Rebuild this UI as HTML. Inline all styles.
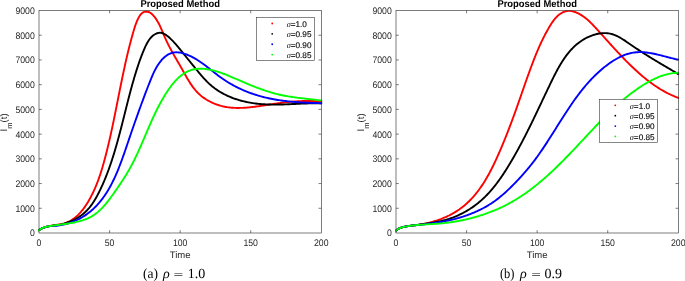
<!DOCTYPE html>
<html><head><meta charset="utf-8"><title>Proposed Method</title>
<style>html,body{margin:0;padding:0;background:#fff;overflow:hidden}svg{display:block;text-rendering:geometricPrecision}</style>
</head><body>
<svg width="685" height="281" viewBox="0 0 685 281">
<rect width="685" height="281" fill="#fff"/>
<clipPath id="clipL"><rect x="38.0" y="10.2" width="284.30" height="223.80"/></clipPath>
<g clip-path="url(#clipL)" fill="none" stroke-width="1.9" stroke-linejoin="round" stroke-linecap="round">
<path d="M38.96,230.18L40.08,229.41L41.21,228.75L42.50,228.13L43.92,227.57L45.41,227.09L46.57,226.78L47.76,226.49L48.96,226.22L50.19,225.96L51.43,225.73L52.69,225.51L53.95,225.30L55.21,225.10L56.48,224.90L57.75,224.71L59.00,224.51L60.25,224.29L61.49,224.04L62.71,223.76L63.91,223.44L65.08,223.08L66.23,222.68L67.35,222.23L68.45,221.74L69.88,221.03L71.26,220.25L72.60,219.40L73.90,218.49L75.16,217.52L76.38,216.49L77.57,215.42L78.43,214.58L79.27,213.71L80.10,212.82L80.91,211.91L81.69,210.98L82.46,210.03L83.22,209.06L83.95,208.07L84.67,207.07L85.37,206.06L86.06,205.03L86.73,203.99L87.39,202.94L88.03,201.89L88.66,200.82L89.28,199.75L89.88,198.68L90.47,197.60L91.04,196.52L91.61,195.43L92.16,194.34L92.70,193.24L93.23,192.14L93.75,191.03L94.26,189.92L94.76,188.80L95.24,187.68L95.72,186.56L96.18,185.43L96.64,184.30L97.09,183.17L97.53,182.03L97.96,180.89L98.38,179.74L98.79,178.59L99.20,177.44L99.60,176.29L99.99,175.13L100.37,173.97L100.75,172.81L101.12,171.65L101.48,170.48L101.84,169.32L102.19,168.15L102.54,166.97L102.88,165.80L103.22,164.62L103.55,163.45L103.88,162.27L104.20,161.09L104.52,159.91L104.84,158.73L105.15,157.55L105.47,156.36L105.77,155.18L106.08,153.99L106.38,152.81L106.68,151.62L106.97,150.44L107.27,149.25L107.56,148.06L107.85,146.87L108.13,145.68L108.42,144.49L108.70,143.30L108.98,142.11L109.25,140.92L109.53,139.72L109.80,138.53L110.07,137.34L110.34,136.14L110.61,134.95L110.87,133.75L111.13,132.56L111.39,131.36L111.65,130.16L111.91,128.97L112.17,127.77L112.42,126.57L112.68,125.38L112.93,124.18L113.18,122.98L113.43,121.78L113.68,120.58L113.92,119.38L114.17,118.18L114.41,116.98L114.66,115.78L114.90,114.58L115.14,113.38L115.39,112.18L115.63,110.98L115.87,109.78L116.11,108.58L116.35,107.38L116.59,106.18L116.83,104.98L117.06,103.78L117.30,102.58L117.54,101.38L117.78,100.18L118.02,98.98L118.25,97.78L118.49,96.58L118.73,95.38L118.97,94.18L119.21,92.98L119.45,91.78L119.68,90.58L119.92,89.38L120.16,88.18L120.41,86.98L120.65,85.78L120.89,84.58L121.13,83.39L121.38,82.19L121.62,80.99L121.87,79.79L122.11,78.60L122.36,77.40L122.61,76.21L122.86,75.01L123.11,73.81L123.36,72.62L123.62,71.43L123.87,70.23L124.13,69.04L124.39,67.85L124.65,66.66L124.91,65.47L125.17,64.27L125.44,63.08L125.70,61.90L125.97,60.71L126.24,59.52L126.52,58.33L126.79,57.15L127.07,55.96L127.35,54.77L127.63,53.59L127.92,52.41L128.20,51.22L128.49,50.04L128.79,48.86L129.08,47.68L129.38,46.50L129.68,45.32L129.98,44.14L130.29,42.97L130.60,41.79L130.91,40.62L131.22,39.44L131.54,38.27L131.86,37.10L132.19,35.93L132.51,34.76L132.84,33.59L133.18,32.42L133.52,31.26L133.86,30.09L134.21,28.93L134.57,27.76L134.94,26.59L135.33,25.42L135.75,24.25L136.19,23.07L136.66,21.89L137.16,20.70L137.70,19.51L138.28,18.31L138.91,17.14L139.59,16.01L140.32,14.96L141.11,14.01L142.26,12.95L143.53,12.16L144.92,11.70L146.38,11.57L147.85,11.75L149.28,12.24L150.62,13.03L151.86,14.04L152.72,14.89L153.55,15.77L154.33,16.69L155.08,17.63L155.79,18.60L156.47,19.60L157.11,20.63L157.73,21.67L158.33,22.73L158.90,23.81L159.45,24.91L159.99,26.02L160.50,27.14L161.01,28.28L161.51,29.42L161.99,30.56L162.48,31.71L162.96,32.86L163.44,34.01L163.92,35.16L164.41,36.31L164.90,37.45L165.40,38.58L165.92,39.70L166.44,40.82L166.97,41.93L167.50,43.03L168.05,44.13L168.60,45.22L169.16,46.31L169.72,47.39L170.29,48.47L170.87,49.54L171.45,50.61L172.04,51.68L172.63,52.74L173.22,53.80L173.82,54.86L174.42,55.91L175.02,56.97L175.63,58.02L176.24,59.07L176.85,60.12L177.46,61.18L178.07,62.23L178.68,63.28L179.29,64.33L179.90,65.39L180.51,66.44L181.12,67.50L181.73,68.56L182.33,69.62L182.94,70.69L183.54,71.76L184.14,72.83L184.74,73.90L185.34,74.97L185.94,76.04L186.55,77.10L187.17,78.17L187.79,79.22L188.42,80.27L189.06,81.32L189.70,82.35L190.36,83.38L191.04,84.40L191.73,85.40L192.43,86.39L193.15,87.37L193.89,88.33L194.65,89.28L195.42,90.21L196.22,91.12L197.05,92.01L197.89,92.88L198.77,93.73L199.67,94.56L200.59,95.37L201.54,96.15L202.51,96.91L203.51,97.64L204.52,98.35L205.55,99.04L206.60,99.70L207.67,100.34L208.75,100.95L209.85,101.53L210.96,102.09L212.08,102.63L213.22,103.14L214.36,103.62L215.51,104.07L216.66,104.50L217.83,104.90L218.99,105.27L220.16,105.62L221.33,105.94L222.51,106.23L223.69,106.49L224.87,106.74L226.06,106.95L227.24,107.15L228.43,107.32L229.63,107.46L230.82,107.59L232.02,107.70L233.22,107.78L234.42,107.85L235.63,107.90L236.83,107.93L238.04,107.94L239.25,107.94L240.46,107.92L241.67,107.88L242.88,107.83L244.10,107.77L245.32,107.69L246.53,107.61L247.75,107.51L248.97,107.39L250.19,107.27L251.41,107.14L252.63,107.00L253.85,106.86L255.07,106.70L256.30,106.54L257.52,106.37L258.74,106.20L259.96,106.02L261.18,105.84L262.40,105.66L263.63,105.47L264.85,105.28L266.07,105.09L267.29,104.90L268.51,104.71L269.72,104.53L270.94,104.34L272.16,104.16L273.37,103.97L274.58,103.80L275.80,103.62L277.01,103.45L278.22,103.28L279.43,103.12L280.64,102.96L281.85,102.81L283.06,102.66L284.27,102.51L285.47,102.37L286.68,102.24L287.89,102.11L289.10,101.99L290.31,101.87L291.51,101.76L292.72,101.65L293.93,101.55L295.14,101.46L296.35,101.38L297.56,101.30L298.78,101.23L299.99,101.16L301.20,101.11L302.42,101.06L303.63,101.02L304.85,100.99L306.07,100.97L307.29,100.95L308.51,100.95L309.73,100.95L310.96,100.96L312.18,100.99L313.41,101.02L314.64,101.06L315.87,101.11L317.11,101.18L318.35,101.25L319.59,101.33L320.83,101.43L321.66,101.50" stroke="#ff0000"/>
<path d="M39.04,230.12L40.09,229.40L41.39,228.66L42.64,228.07L44.00,227.54L45.42,227.09L46.85,226.71L48.29,226.37L49.74,226.07L51.19,225.82L52.65,225.62L54.11,225.44L55.57,225.27L57.02,225.09L58.48,224.87L59.93,224.61L61.37,224.31L62.80,223.97L64.23,223.59L65.64,223.18L67.05,222.73L68.44,222.24L69.81,221.71L71.17,221.14L72.52,220.54L73.84,219.90L75.15,219.22L76.43,218.51L77.69,217.76L78.93,216.98L80.14,216.16L81.33,215.31L82.49,214.42L83.62,213.49L84.72,212.53L85.78,211.54L86.82,210.51L87.82,209.45L88.79,208.36L89.72,207.24L90.62,206.09L91.50,204.92L92.35,203.72L93.17,202.50L93.97,201.26L94.74,200.01L95.50,198.74L96.23,197.46L96.95,196.16L97.65,194.86L98.33,193.56L99.00,192.25L99.66,190.93L100.30,189.61L100.93,188.28L101.55,186.96L102.16,185.62L102.76,184.29L103.34,182.95L103.92,181.60L104.49,180.25L105.04,178.90L105.59,177.55L106.13,176.19L106.67,174.83L107.19,173.47L107.71,172.10L108.22,170.73L108.72,169.36L109.22,167.99L109.70,166.61L110.19,165.23L110.66,163.85L111.13,162.46L111.59,161.08L112.05,159.69L112.50,158.29L112.94,156.90L113.38,155.50L113.82,154.11L114.25,152.71L114.67,151.31L115.09,149.90L115.50,148.50L115.91,147.09L116.32,145.68L116.72,144.27L117.12,142.86L117.51,141.45L117.90,140.03L118.29,138.62L118.68,137.20L119.06,135.78L119.44,134.37L119.81,132.95L120.18,131.53L120.55,130.10L120.92,128.68L121.29,127.26L121.66,125.84L122.02,124.41L122.38,122.99L122.74,121.56L123.10,120.14L123.46,118.71L123.82,117.29L124.18,115.86L124.53,114.44L124.89,113.01L125.25,111.59L125.60,110.16L125.96,108.74L126.32,107.31L126.68,105.89L127.04,104.46L127.40,103.04L127.76,101.62L128.13,100.20L128.49,98.78L128.86,97.36L129.23,95.94L129.60,94.52L129.97,93.10L130.35,91.68L130.73,90.27L131.11,88.85L131.49,87.44L131.88,86.03L132.27,84.62L132.67,83.21L133.07,81.80L133.47,80.40L133.88,79.00L134.29,77.59L134.70,76.19L135.12,74.80L135.55,73.40L135.98,72.01L136.41,70.62L136.85,69.23L137.30,67.84L137.75,66.45L138.21,65.07L138.68,63.69L139.15,62.31L139.64,60.93L140.13,59.56L140.63,58.18L141.15,56.81L141.67,55.44L142.21,54.07L142.75,52.70L143.32,51.34L143.89,49.97L144.48,48.60L145.08,47.24L145.70,45.88L146.35,44.54L147.03,43.22L147.75,41.93L148.52,40.68L149.35,39.47L150.24,38.33L151.20,37.25L152.24,36.25L153.36,35.33L154.58,34.50L155.87,33.79L157.23,33.24L158.61,32.88L160.00,32.73L161.38,32.85L162.73,33.22L164.04,33.79L165.32,34.53L166.57,35.40L167.77,36.34L168.94,37.32L170.07,38.33L171.15,39.35L172.21,40.40L173.24,41.46L174.24,42.54L175.22,43.63L176.18,44.73L177.12,45.84L178.06,46.96L178.98,48.09L179.90,49.21L180.82,50.34L181.73,51.47L182.65,52.60L183.57,53.73L184.48,54.86L185.40,55.99L186.31,57.12L187.23,58.25L188.15,59.39L189.06,60.52L189.98,61.66L190.90,62.79L191.83,63.93L192.75,65.07L193.68,66.20L194.60,67.34L195.54,68.48L196.47,69.62L197.41,70.77L198.35,71.91L199.29,73.04L200.25,74.18L201.21,75.30L202.18,76.42L203.16,77.52L204.15,78.62L205.15,79.70L206.17,80.76L207.20,81.81L208.25,82.83L209.31,83.84L210.39,84.81L211.50,85.77L212.62,86.69L213.76,87.59L214.92,88.47L216.10,89.31L217.30,90.13L218.52,90.93L219.75,91.69L221.00,92.44L222.27,93.15L223.54,93.85L224.84,94.52L226.15,95.16L227.47,95.78L228.80,96.37L230.15,96.95L231.50,97.50L232.87,98.02L234.25,98.52L235.64,99.01L237.03,99.46L238.44,99.90L239.85,100.32L241.27,100.71L242.70,101.08L244.13,101.43L245.57,101.76L247.01,102.08L248.46,102.37L249.91,102.64L251.36,102.89L252.82,103.12L254.28,103.33L255.74,103.53L257.20,103.70L258.66,103.86L260.12,104.00L261.58,104.13L263.04,104.23L264.50,104.32L265.96,104.40L267.42,104.46L268.88,104.51L270.34,104.55L271.80,104.58L273.26,104.59L274.72,104.59L276.18,104.59L277.64,104.57L279.10,104.55L280.57,104.52L282.03,104.48L283.49,104.43L284.95,104.38L286.41,104.33L287.87,104.27L289.34,104.21L290.80,104.14L292.26,104.07L293.73,104.00L295.19,103.93L296.65,103.86L298.12,103.79L299.58,103.73L301.05,103.66L302.52,103.60L303.98,103.54L305.45,103.49L306.92,103.44L308.38,103.39L309.85,103.36L311.32,103.33L312.79,103.30L314.26,103.29L315.73,103.29L317.20,103.29L318.67,103.31L320.15,103.33L321.62,103.37" stroke="#000000"/>
<path d="M38.81,230.29L39.87,229.54L41.06,228.84L42.37,228.19L43.49,227.73L44.67,227.32L45.90,226.96L47.17,226.63L48.48,226.33L49.81,226.10L51.16,225.95L52.51,225.86L53.87,225.82L55.23,225.78L56.59,225.71L57.94,225.58L59.29,225.40L60.64,225.18L61.98,224.94L63.31,224.66L64.64,224.35L65.96,224.02L67.27,223.65L68.58,223.26L69.87,222.84L71.16,222.39L72.43,221.92L73.69,221.42L74.94,220.89L76.18,220.34L77.40,219.77L78.61,219.17L79.80,218.55L80.97,217.90L82.13,217.24L83.28,216.55L84.40,215.84L85.50,215.11L86.59,214.36L87.65,213.59L88.70,212.80L89.73,211.99L90.74,211.16L91.73,210.32L92.70,209.46L93.65,208.58L94.59,207.68L95.51,206.77L96.41,205.84L97.30,204.89L98.17,203.93L99.02,202.95L99.86,201.96L100.68,200.95L101.49,199.93L102.28,198.89L103.06,197.84L103.82,196.78L104.57,195.71L105.31,194.62L106.03,193.52L106.74,192.41L107.44,191.29L108.12,190.15L108.79,189.01L109.45,187.85L110.10,186.69L110.74,185.51L111.37,184.33L111.99,183.14L112.59,181.94L113.19,180.73L113.78,179.51L114.35,178.29L114.92,177.06L115.48,175.82L116.03,174.58L116.57,173.33L117.11,172.07L117.64,170.81L118.15,169.54L118.67,168.27L119.17,167.00L119.67,165.72L120.17,164.44L120.66,163.15L121.14,161.87L121.61,160.58L122.09,159.28L122.55,157.99L123.02,156.70L123.48,155.40L123.93,154.10L124.39,152.81L124.83,151.51L125.28,150.21L125.72,148.92L126.17,147.63L126.61,146.33L127.04,145.04L127.48,143.76L127.92,142.47L128.35,141.19L128.79,139.91L129.22,138.63L129.66,137.36L130.09,136.09L130.52,134.82L130.96,133.56L131.39,132.30L131.83,131.04L132.26,129.78L132.69,128.53L133.13,127.28L133.56,126.03L134.00,124.78L134.43,123.53L134.87,122.29L135.30,121.05L135.74,119.81L136.18,118.57L136.62,117.33L137.06,116.09L137.50,114.86L137.94,113.62L138.38,112.39L138.82,111.16L139.27,109.92L139.71,108.69L140.16,107.46L140.61,106.23L141.05,105.00L141.51,103.77L141.96,102.54L142.41,101.31L142.87,100.08L143.33,98.85L143.79,97.62L144.25,96.39L144.71,95.16L145.17,93.93L145.64,92.69L146.11,91.46L146.58,90.23L147.06,88.99L147.53,87.75L148.01,86.52L148.49,85.28L148.98,84.03L149.46,82.79L149.95,81.55L150.44,80.30L150.94,79.06L151.45,77.81L151.97,76.57L152.50,75.33L153.05,74.09L153.62,72.86L154.21,71.63L154.82,70.41L155.46,69.19L156.12,67.99L156.82,66.79L157.55,65.61L158.31,64.43L159.11,63.28L159.95,62.14L160.82,61.04L161.72,59.97L162.66,58.94L163.63,57.97L164.63,57.05L165.66,56.19L166.72,55.40L167.82,54.69L168.94,54.06L170.09,53.53L171.27,53.09L172.48,52.75L173.71,52.51L174.96,52.37L176.23,52.32L177.52,52.36L178.81,52.48L180.12,52.67L181.42,52.92L182.73,53.24L184.03,53.61L185.33,54.03L186.62,54.50L187.89,55.00L189.14,55.54L190.37,56.10L191.59,56.69L192.78,57.30L193.96,57.94L195.13,58.60L196.28,59.28L197.41,59.98L198.53,60.69L199.64,61.43L200.74,62.18L201.83,62.94L202.91,63.71L203.99,64.50L205.05,65.30L206.11,66.10L207.16,66.92L208.22,67.74L209.26,68.56L210.31,69.39L211.35,70.22L212.40,71.05L213.44,71.87L214.49,72.70L215.54,73.52L216.59,74.34L217.65,75.16L218.71,75.96L219.79,76.76L220.86,77.54L221.95,78.32L223.05,79.08L224.16,79.83L225.27,80.56L226.40,81.29L227.53,82.00L228.68,82.69L229.83,83.38L230.99,84.05L232.16,84.70L233.33,85.35L234.52,85.98L235.71,86.60L236.91,87.21L238.11,87.80L239.32,88.38L240.54,88.95L241.77,89.51L243.00,90.05L244.23,90.58L245.47,91.09L246.72,91.60L247.97,92.09L249.23,92.57L250.49,93.03L251.76,93.49L253.03,93.93L254.30,94.35L255.58,94.77L256.86,95.17L258.14,95.56L259.43,95.94L260.72,96.30L262.01,96.66L263.30,97.00L264.60,97.32L265.89,97.64L267.19,97.94L268.49,98.23L269.80,98.51L271.10,98.77L272.41,99.03L273.71,99.28L275.02,99.51L276.33,99.73L277.65,99.95L278.96,100.15L280.27,100.35L281.59,100.53L282.91,100.71L284.23,100.88L285.55,101.04L286.87,101.19L288.19,101.33L289.52,101.47L290.84,101.60L292.17,101.72L293.50,101.84L294.83,101.95L296.16,102.05L297.49,102.15L298.82,102.24L300.16,102.33L301.49,102.41L302.83,102.49L304.17,102.56L305.50,102.63L306.84,102.69L308.18,102.75L309.52,102.81L310.87,102.87L312.21,102.92L313.55,102.97L314.90,103.02L316.24,103.06L317.59,103.11L318.94,103.15L320.29,103.19L321.63,103.24" stroke="#0000ff"/>
<path d="M38.55,230.50L39.72,229.64L40.95,228.90L42.23,228.25L43.55,227.71L44.92,227.24L46.32,226.84L47.76,226.51L49.23,226.21L50.42,226.01L51.62,225.82L52.83,225.64L54.06,225.47L55.29,225.30L56.52,225.13L57.77,224.97L59.01,224.80L60.27,224.64L61.52,224.47L62.78,224.31L64.04,224.13L65.30,223.96L66.56,223.77L67.82,223.58L69.08,223.38L70.33,223.17L71.58,222.95L72.83,222.72L74.07,222.47L75.30,222.22L76.53,221.94L77.75,221.65L78.96,221.34L80.16,221.02L81.36,220.67L82.54,220.30L83.70,219.91L84.86,219.50L86.00,219.06L87.12,218.60L88.24,218.11L89.33,217.59L90.41,217.05L91.46,216.47L92.50,215.87L93.52,215.23L94.52,214.56L95.50,213.86L96.46,213.13L97.41,212.37L98.34,211.58L99.25,210.77L100.14,209.94L101.02,209.08L101.89,208.21L102.74,207.31L103.58,206.39L104.41,205.46L105.22,204.51L106.03,203.55L106.82,202.58L107.61,201.59L108.39,200.59L109.16,199.59L109.92,198.57L110.68,197.55L111.43,196.53L112.17,195.50L112.91,194.47L113.65,193.43L114.38,192.40L115.11,191.37L115.84,190.34L116.56,189.30L117.28,188.27L117.99,187.24L118.70,186.20L119.41,185.16L120.11,184.12L120.80,183.09L121.49,182.04L122.18,181.00L122.86,179.96L123.53,178.91L124.20,177.86L124.86,176.81L125.51,175.76L126.16,174.70L126.80,173.64L127.44,172.58L128.07,171.52L128.69,170.45L129.30,169.38L129.90,168.30L130.50,167.23L131.09,166.15L131.67,165.06L132.24,163.97L132.81,162.88L133.37,161.79L133.93,160.69L134.47,159.59L135.02,158.49L135.55,157.38L136.08,156.27L136.61,155.16L137.13,154.05L137.65,152.93L138.16,151.82L138.67,150.70L139.17,149.58L139.68,148.45L140.17,147.33L140.67,146.20L141.16,145.07L141.65,143.94L142.14,142.81L142.63,141.68L143.12,140.55L143.60,139.42L144.09,138.28L144.57,137.15L145.05,136.01L145.53,134.88L146.02,133.74L146.50,132.60L146.99,131.47L147.47,130.33L147.96,129.19L148.45,128.06L148.94,126.92L149.43,125.78L149.93,124.65L150.42,123.52L150.92,122.38L151.43,121.25L151.94,120.12L152.45,118.99L152.96,117.86L153.48,116.73L154.01,115.60L154.54,114.48L155.07,113.35L155.62,112.23L156.16,111.11L156.71,109.99L157.27,108.88L157.84,107.76L158.41,106.65L158.99,105.54L159.58,104.44L160.17,103.33L160.78,102.23L161.39,101.13L162.01,100.04L162.64,98.94L163.28,97.86L163.92,96.77L164.58,95.69L165.25,94.61L165.92,93.53L166.61,92.46L167.31,91.40L168.02,90.34L168.74,89.29L169.48,88.24L170.22,87.21L170.98,86.20L171.75,85.19L172.53,84.20L173.33,83.23L174.14,82.28L174.97,81.35L175.81,80.44L176.66,79.55L177.53,78.68L178.41,77.85L179.31,77.03L180.23,76.25L181.40,75.32L182.59,74.43L183.81,73.60L185.06,72.82L186.34,72.10L187.64,71.45L188.97,70.85L190.34,70.33L191.73,69.87L193.16,69.49L194.61,69.19L195.80,69.00L197.01,68.86L198.23,68.76L199.47,68.71L200.72,68.71L201.98,68.74L203.25,68.81L204.52,68.92L205.80,69.06L207.09,69.24L208.37,69.44L209.65,69.67L210.92,69.93L212.19,70.22L213.45,70.52L214.70,70.85L215.94,71.19L217.17,71.55L218.38,71.93L219.58,72.32L220.77,72.72L221.95,73.13L223.12,73.56L224.28,74.00L225.43,74.45L226.58,74.90L227.72,75.37L228.86,75.84L229.99,76.31L231.12,76.80L232.25,77.28L233.38,77.77L234.51,78.26L235.63,78.75L236.76,79.24L237.89,79.73L239.02,80.22L240.16,80.71L241.29,81.20L242.42,81.69L243.56,82.18L244.70,82.66L245.84,83.14L246.98,83.62L248.12,84.10L249.27,84.58L250.41,85.05L251.56,85.51L252.71,85.98L253.86,86.43L255.02,86.89L256.17,87.34L257.33,87.78L258.49,88.22L259.65,88.65L260.82,89.07L261.99,89.49L263.15,89.90L264.33,90.30L265.50,90.70L266.68,91.09L267.86,91.47L269.04,91.84L270.22,92.20L271.41,92.55L272.60,92.89L273.79,93.23L274.99,93.55L276.19,93.86L277.39,94.16L278.59,94.46L279.80,94.73L281.01,95.00L282.22,95.26L283.44,95.51L284.66,95.74L285.88,95.97L287.10,96.19L288.33,96.40L289.55,96.60L290.78,96.79L292.01,96.98L293.24,97.16L294.48,97.33L295.71,97.50L296.95,97.67L298.18,97.82L299.42,97.98L300.65,98.13L301.89,98.27L303.13,98.42L304.36,98.56L305.60,98.70L306.84,98.83L308.07,98.97L309.31,99.11L310.54,99.24L311.78,99.38L313.01,99.51L314.24,99.65L315.47,99.79L316.70,99.93L317.92,100.07L319.15,100.22L320.37,100.37L321.59,100.52" stroke="#00ff00"/>
</g>
<path d="M109.58,233.0v-2.8M109.58,10.5v2.8M180.15,233.0v-2.8M180.15,10.5v2.8M250.72,233.0v-2.8M250.72,10.5v2.8M39.0,208.28h2.8M321.3,208.28h-2.8M39.0,183.56h2.8M321.3,183.56h-2.8M39.0,158.83h2.8M321.3,158.83h-2.8M39.0,134.11h2.8M321.3,134.11h-2.8M39.0,109.39h2.8M321.3,109.39h-2.8M39.0,84.67h2.8M321.3,84.67h-2.8M39.0,59.94h2.8M321.3,59.94h-2.8M39.0,35.22h2.8M321.3,35.22h-2.8" stroke="#262626" stroke-width="0.6" fill="none"/>
<rect x="39.0" y="10.5" width="282.30" height="222.50" fill="none" stroke="#262626" stroke-width="0.6"/>
<g font-family="Liberation Sans, Arial, sans-serif" font-size="9.5" fill="#262626">
<text x="39.00" y="246.0" text-anchor="middle" textLength="4.84" lengthAdjust="spacingAndGlyphs">0</text>
<text x="109.58" y="246.0" text-anchor="middle" textLength="9.67" lengthAdjust="spacingAndGlyphs">50</text>
<text x="180.15" y="246.0" text-anchor="middle" textLength="14.51" lengthAdjust="spacingAndGlyphs">100</text>
<text x="250.72" y="246.0" text-anchor="middle" textLength="14.51" lengthAdjust="spacingAndGlyphs">150</text>
<text x="321.30" y="246.0" text-anchor="middle" textLength="14.51" lengthAdjust="spacingAndGlyphs">200</text>
<text x="34.80" y="236.40" text-anchor="end" textLength="4.84" lengthAdjust="spacingAndGlyphs">0</text>
<text x="34.80" y="211.68" text-anchor="end" textLength="19.35" lengthAdjust="spacingAndGlyphs">1000</text>
<text x="34.80" y="186.96" text-anchor="end" textLength="19.35" lengthAdjust="spacingAndGlyphs">2000</text>
<text x="34.80" y="162.23" text-anchor="end" textLength="19.35" lengthAdjust="spacingAndGlyphs">3000</text>
<text x="34.80" y="137.51" text-anchor="end" textLength="19.35" lengthAdjust="spacingAndGlyphs">4000</text>
<text x="34.80" y="112.79" text-anchor="end" textLength="19.35" lengthAdjust="spacingAndGlyphs">5000</text>
<text x="34.80" y="88.07" text-anchor="end" textLength="19.35" lengthAdjust="spacingAndGlyphs">6000</text>
<text x="34.80" y="63.34" text-anchor="end" textLength="19.35" lengthAdjust="spacingAndGlyphs">7000</text>
<text x="34.80" y="38.62" text-anchor="end" textLength="19.35" lengthAdjust="spacingAndGlyphs">8000</text>
<text x="34.80" y="13.90" text-anchor="end" textLength="19.35" lengthAdjust="spacingAndGlyphs">9000</text>
</g>
<text x="180.15" y="258.4" text-anchor="middle" font-family="Liberation Sans, Arial, sans-serif" font-size="9.5" fill="#262626">Time</text>
<text x="180.15" y="6.5" text-anchor="middle" font-family="Liberation Sans, Arial, sans-serif" font-weight="bold" font-size="10" textLength="79.5" lengthAdjust="spacingAndGlyphs" fill="#000">Proposed Method</text>
<text transform="translate(7.30,131.4) rotate(-90)" font-family="Liberation Sans, Arial, sans-serif" font-size="9.5" fill="#262626"><tspan font-size="9.8">I</tspan><tspan font-size="7.5" dy="5">m</tspan><tspan dy="-5">(t)</tspan></text>
<text x="143.00" y="278" font-family="Liberation Serif, Times New Roman, serif" font-size="14" fill="#000" textLength="15.0" lengthAdjust="spacingAndGlyphs">(a)</text>
<text x="162.90" y="278" font-family="Liberation Serif, Times New Roman, serif" font-size="14" fill="#000" font-style="italic">ρ</text>
<text x="173.80" y="278.3" font-family="Liberation Serif, Times New Roman, serif" font-size="11" fill="#000" textLength="9.3" lengthAdjust="spacingAndGlyphs" stroke="#000" stroke-width="0.12">=</text>
<text x="187.80" y="278" font-family="Liberation Serif, Times New Roman, serif" font-size="14" fill="#000" >1.0</text>
<rect x="256.5" y="17.6" width="57.9" height="42.9" fill="#fff" stroke="#262626" stroke-width="0.55"/>
<circle cx="272.20" cy="23.50" r="0.9" fill="#ff0000"/>
<text x="286.70" y="26.80" font-family="Liberation Sans, Arial, sans-serif" font-size="8.2" fill="#000" stroke="#000" stroke-width="0.12"><tspan font-family="Liberation Serif, Times New Roman, serif" font-style="italic" stroke="none">σ</tspan>=1.0</text>
<circle cx="272.20" cy="33.87" r="0.9" fill="#000000"/>
<text x="286.70" y="37.17" font-family="Liberation Sans, Arial, sans-serif" font-size="8.2" fill="#000" stroke="#000" stroke-width="0.12"><tspan font-family="Liberation Serif, Times New Roman, serif" font-style="italic" stroke="none">σ</tspan>=0.95</text>
<circle cx="272.20" cy="44.24" r="0.9" fill="#0000ff"/>
<text x="286.70" y="47.54" font-family="Liberation Sans, Arial, sans-serif" font-size="8.2" fill="#000" stroke="#000" stroke-width="0.12"><tspan font-family="Liberation Serif, Times New Roman, serif" font-style="italic" stroke="none">σ</tspan>=0.90</text>
<circle cx="272.20" cy="54.61" r="0.9" fill="#00ff00"/>
<text x="286.70" y="57.91" font-family="Liberation Sans, Arial, sans-serif" font-size="8.2" fill="#000" stroke="#000" stroke-width="0.12"><tspan font-family="Liberation Serif, Times New Roman, serif" font-style="italic" stroke="none">σ</tspan>=0.85</text>
<clipPath id="clipR"><rect x="395.0" y="10.2" width="284.30" height="223.80"/></clipPath>
<g clip-path="url(#clipR)" fill="none" stroke-width="1.9" stroke-linejoin="round" stroke-linecap="round">
<path d="M396.05,230.72L396.95,229.84L397.94,229.08L399.13,228.40L400.45,227.82L401.86,227.35L403.29,226.98L404.74,226.68L406.20,226.41L407.66,226.17L409.14,225.95L410.62,225.74L412.10,225.55L413.58,225.37L415.06,225.21L416.53,225.04L418.00,224.85L419.46,224.63L420.91,224.39L422.36,224.14L423.80,223.87L425.23,223.59L426.66,223.28L428.09,222.96L429.51,222.61L430.92,222.24L432.33,221.86L433.74,221.45L435.15,221.02L436.55,220.57L437.95,220.09L439.35,219.59L440.75,219.08L442.14,218.53L443.52,217.97L444.90,217.38L446.27,216.77L447.63,216.14L448.98,215.49L450.31,214.81L451.64,214.11L452.94,213.39L454.24,212.65L455.51,211.88L456.77,211.09L458.01,210.28L459.23,209.45L460.43,208.59L461.61,207.71L462.76,206.82L463.90,205.90L465.02,204.96L466.12,204.00L467.20,203.02L468.26,202.02L469.30,201.01L470.33,199.97L471.34,198.92L472.33,197.86L473.30,196.77L474.26,195.67L475.20,194.56L476.12,193.42L477.03,192.28L477.93,191.12L478.81,189.95L479.68,188.76L480.53,187.56L481.36,186.35L482.19,185.13L483.00,183.90L483.80,182.65L484.58,181.40L485.36,180.13L486.12,178.86L486.87,177.57L487.61,176.28L488.34,174.98L489.06,173.68L489.76,172.36L490.46,171.04L491.15,169.72L491.83,168.38L492.50,167.05L493.16,165.71L493.82,164.36L494.47,163.01L495.10,161.66L495.74,160.30L496.36,158.94L496.98,157.59L497.59,156.22L498.20,154.86L498.80,153.50L499.40,152.14L499.99,150.78L500.58,149.41L501.16,148.05L501.74,146.69L502.31,145.33L502.88,143.97L503.44,142.60L504.00,141.24L504.56,139.88L505.11,138.51L505.66,137.15L506.20,135.78L506.74,134.42L507.28,133.05L507.81,131.68L508.35,130.32L508.87,128.95L509.40,127.58L509.92,126.21L510.44,124.84L510.95,123.47L511.47,122.10L511.98,120.73L512.48,119.35L512.99,117.98L513.50,116.61L514.00,115.23L514.50,113.85L515.00,112.47L515.49,111.09L515.99,109.71L516.48,108.33L516.97,106.95L517.46,105.56L517.95,104.18L518.44,102.79L518.93,101.40L519.42,100.01L519.90,98.62L520.39,97.23L520.88,95.83L521.36,94.44L521.85,93.04L522.33,91.64L522.82,90.24L523.30,88.84L523.79,87.44L524.28,86.04L524.77,84.64L525.26,83.24L525.75,81.84L526.24,80.44L526.74,79.04L527.23,77.64L527.73,76.24L528.23,74.84L528.73,73.45L529.24,72.05L529.75,70.66L530.26,69.26L530.77,67.87L531.29,66.48L531.81,65.09L532.33,63.71L532.86,62.32L533.39,60.94L533.92,59.57L534.46,58.19L535.01,56.82L535.56,55.45L536.11,54.08L536.67,52.72L537.24,51.36L537.81,50.00L538.39,48.64L538.98,47.30L539.58,45.95L540.18,44.61L540.80,43.27L541.42,41.94L542.05,40.61L542.69,39.29L543.34,37.97L544.01,36.65L544.68,35.34L545.37,34.04L546.06,32.74L546.77,31.45L547.50,30.16L548.23,28.88L548.98,27.60L549.74,26.33L550.52,25.06L551.31,23.81L552.13,22.57L552.97,21.34L553.84,20.15L554.75,18.99L555.70,17.88L556.70,16.81L557.75,15.80L558.87,14.85L560.04,13.98L561.29,13.18L562.61,12.47L564.01,11.85L565.47,11.36L566.95,11.03L568.42,10.88L569.89,10.90L571.36,11.06L572.80,11.35L574.22,11.74L575.62,12.24L576.99,12.80L578.32,13.43L579.62,14.10L580.89,14.83L582.12,15.60L583.33,16.42L584.51,17.28L585.66,18.17L586.79,19.10L587.90,20.06L588.99,21.05L590.07,22.06L591.13,23.10L592.17,24.15L593.20,25.22L594.23,26.31L595.24,27.40L596.25,28.50L597.26,29.60L598.26,30.70L599.26,31.81L600.25,32.91L601.25,34.01L602.24,35.12L603.24,36.22L604.23,37.32L605.22,38.42L606.21,39.52L607.20,40.62L608.19,41.72L609.18,42.82L610.17,43.92L611.16,45.01L612.16,46.10L613.15,47.19L614.14,48.28L615.14,49.36L616.14,50.45L617.14,51.53L618.15,52.60L619.15,53.68L620.16,54.75L621.17,55.82L622.19,56.88L623.21,57.94L624.23,59.00L625.26,60.05L626.29,61.09L627.33,62.14L628.37,63.18L629.42,64.21L630.47,65.24L631.53,66.26L632.60,67.28L633.67,68.29L634.75,69.30L635.83,70.30L636.92,71.30L638.02,72.29L639.12,73.27L640.24,74.24L641.36,75.21L642.49,76.17L643.62,77.12L644.76,78.06L645.92,78.99L647.08,79.90L648.24,80.81L649.42,81.71L650.60,82.60L651.80,83.47L653.00,84.33L654.21,85.18L655.43,86.01L656.65,86.83L657.89,87.63L659.14,88.42L660.39,89.20L661.66,89.95L662.93,90.69L664.22,91.42L665.51,92.12L666.81,92.81L668.13,93.48L669.45,94.13L670.79,94.76L672.13,95.37L673.49,95.96L674.85,96.53L676.23,97.08L677.62,97.61L678.31,97.86" stroke="#ff0000"/>
<path d="M395.61,231.14L396.56,230.19L397.57,229.34L398.65,228.66L399.77,228.10L400.94,227.65L402.14,227.28L403.36,226.97L404.61,226.71L405.87,226.47L407.13,226.26L408.40,226.06L409.68,225.87L410.96,225.70L412.24,225.53L413.53,225.37L414.82,225.20L416.12,225.03L417.42,224.85L418.72,224.66L420.02,224.47L421.32,224.29L422.63,224.11L423.93,223.94L425.24,223.77L426.55,223.59L427.85,223.41L429.16,223.22L430.46,223.03L431.77,222.83L433.07,222.62L434.37,222.40L435.67,222.17L436.96,221.93L438.26,221.67L439.54,221.40L440.83,221.12L442.11,220.82L443.38,220.50L444.66,220.17L445.92,219.82L447.18,219.44L448.43,219.05L449.68,218.64L450.92,218.22L452.16,217.77L453.39,217.31L454.61,216.83L455.82,216.33L457.03,215.81L458.23,215.28L459.42,214.73L460.60,214.16L461.78,213.58L462.95,212.98L464.10,212.36L465.25,211.73L466.39,211.08L467.52,210.41L468.64,209.73L469.75,209.04L470.85,208.32L471.94,207.60L473.02,206.85L474.08,206.10L475.14,205.32L476.18,204.54L477.22,203.74L478.24,202.92L479.25,202.09L480.24,201.24L481.23,200.39L482.20,199.52L483.16,198.63L484.11,197.73L485.04,196.82L485.97,195.90L486.88,194.97L487.78,194.02L488.67,193.06L489.56,192.10L490.43,191.12L491.29,190.13L492.14,189.13L492.98,188.13L493.81,187.11L494.63,186.09L495.44,185.06L496.25,184.01L497.04,182.97L497.83,181.91L498.61,180.85L499.38,179.78L500.14,178.70L500.90,177.62L501.65,176.54L502.39,175.45L503.12,174.35L503.85,173.25L504.57,172.14L505.29,171.03L505.99,169.92L506.70,168.81L507.39,167.69L508.08,166.57L508.77,165.44L509.45,164.32L510.13,163.19L510.80,162.07L511.47,160.94L512.13,159.81L512.79,158.68L513.44,157.55L514.10,156.41L514.74,155.28L515.38,154.14L516.02,153.01L516.66,151.87L517.29,150.73L517.92,149.59L518.54,148.45L519.16,147.31L519.78,146.16L520.39,145.02L521.00,143.87L521.61,142.73L522.22,141.58L522.82,140.43L523.42,139.28L524.01,138.13L524.61,136.97L525.20,135.82L525.79,134.66L526.38,133.51L526.96,132.35L527.55,131.19L528.13,130.03L528.71,128.87L529.28,127.71L529.86,126.54L530.43,125.38L531.01,124.21L531.58,123.05L532.15,121.88L532.72,120.71L533.28,119.54L533.85,118.37L534.42,117.19L534.98,116.02L535.55,114.85L536.11,113.67L536.67,112.49L537.23,111.31L537.80,110.13L538.36,108.95L538.92,107.77L539.48,106.59L540.04,105.40L540.61,104.22L541.17,103.03L541.73,101.84L542.29,100.65L542.86,99.46L543.42,98.27L543.99,97.08L544.55,95.89L545.12,94.69L545.68,93.49L546.25,92.30L546.82,91.10L547.39,89.90L547.96,88.70L548.54,87.50L549.11,86.29L549.69,85.09L550.27,83.89L550.85,82.68L551.43,81.47L552.02,80.27L552.61,79.06L553.20,77.86L553.80,76.66L554.40,75.46L555.01,74.27L555.63,73.08L556.25,71.90L556.88,70.72L557.51,69.55L558.15,68.38L558.81,67.22L559.47,66.07L560.13,64.93L560.81,63.79L561.50,62.67L562.20,61.56L562.91,60.46L563.64,59.36L564.37,58.29L565.12,57.22L565.88,56.17L566.65,55.13L567.44,54.11L568.24,53.10L569.06,52.11L569.89,51.13L570.74,50.18L571.60,49.24L572.48,48.31L573.38,47.41L574.30,46.53L575.23,45.66L576.19,44.82L577.16,44.00L578.15,43.20L579.16,42.43L580.20,41.67L581.25,40.94L582.33,40.24L583.42,39.56L584.54,38.91L585.69,38.28L586.85,37.68L588.04,37.11L589.26,36.56L590.49,36.05L591.74,35.57L593.01,35.13L594.29,34.73L595.58,34.36L596.88,34.04L598.19,33.76L599.50,33.53L600.82,33.35L602.13,33.21L603.45,33.13L604.75,33.11L606.06,33.14L607.35,33.24L608.63,33.39L609.90,33.61L611.16,33.89L612.40,34.23L613.62,34.64L614.83,35.09L616.03,35.60L617.22,36.15L618.39,36.74L619.56,37.37L620.71,38.03L621.86,38.72L623.00,39.44L624.13,40.17L625.25,40.91L626.37,41.67L627.48,42.44L628.59,43.20L629.70,43.97L630.80,44.73L631.90,45.48L633.00,46.22L634.10,46.96L635.20,47.70L636.29,48.43L637.38,49.15L638.47,49.87L639.57,50.59L640.66,51.30L641.75,52.00L642.84,52.70L643.93,53.40L645.02,54.09L646.11,54.78L647.21,55.47L648.30,56.16L649.40,56.84L650.50,57.52L651.60,58.20L652.70,58.87L653.81,59.54L654.91,60.22L656.02,60.89L657.14,61.55L658.26,62.22L659.38,62.89L660.50,63.56L661.63,64.22L662.77,64.89L663.91,65.56L665.05,66.23L666.19,66.89L667.34,67.56L668.48,68.23L669.63,68.91L670.77,69.58L671.91,70.26L673.04,70.94L674.16,71.62L675.28,72.31L676.39,73.00L677.49,73.69L678.30,74.21" stroke="#000000"/>
<path d="M395.59,231.14L396.47,230.28L397.39,229.47L398.61,228.68L399.88,228.05L401.20,227.56L402.57,227.16L403.97,226.83L405.41,226.56L406.86,226.30L408.34,226.07L409.82,225.86L411.30,225.68L412.78,225.52L414.27,225.38L415.75,225.25L417.23,225.11L418.71,224.95L420.20,224.79L421.68,224.62L423.16,224.44L424.64,224.26L426.12,224.08L427.60,223.89L429.08,223.70L430.56,223.51L432.04,223.31L433.52,223.10L434.99,222.89L436.47,222.66L437.94,222.43L439.41,222.19L440.89,221.94L442.35,221.69L443.82,221.42L445.29,221.14L446.75,220.84L448.22,220.54L449.68,220.22L451.14,219.89L452.59,219.55L454.05,219.19L455.50,218.81L456.66,218.50L457.82,218.18L458.97,217.86L460.13,217.52L461.28,217.17L462.42,216.81L463.57,216.44L464.71,216.07L465.84,215.68L466.98,215.28L468.11,214.87L469.23,214.46L470.35,214.03L471.75,213.48L473.14,212.91L474.52,212.33L475.89,211.73L477.26,211.12L478.61,210.48L479.96,209.83L481.30,209.17L482.62,208.48L483.94,207.78L485.25,207.06L486.54,206.33L487.83,205.57L489.10,204.80L490.36,204.01L491.61,203.20L492.84,202.37L494.07,201.53L495.28,200.66L496.47,199.78L497.66,198.88L498.83,197.97L499.99,197.03L501.13,196.09L502.27,195.13L503.40,194.15L504.51,193.17L505.62,192.17L506.72,191.16L507.80,190.14L508.88,189.12L509.96,188.08L511.02,187.04L512.08,185.99L513.13,184.93L514.17,183.87L515.21,182.80L516.25,181.73L517.27,180.66L518.29,179.58L519.31,178.49L520.32,177.40L521.32,176.30L522.31,175.20L523.30,174.09L524.28,172.98L525.26,171.86L526.22,170.73L527.18,169.60L528.13,168.46L529.08,167.32L530.01,166.16L530.94,165.01L531.86,163.84L532.78,162.66L533.68,161.48L534.58,160.30L535.47,159.10L536.35,157.90L537.23,156.70L538.10,155.49L538.96,154.27L539.82,153.05L540.67,151.82L541.52,150.59L542.37,149.35L543.20,148.11L544.04,146.87L544.87,145.62L545.69,144.37L546.35,143.36L547.01,142.36L547.66,141.35L548.31,140.34L548.96,139.33L549.61,138.32L550.26,137.30L550.90,136.29L551.55,135.27L552.19,134.26L552.83,133.24L553.48,132.22L554.12,131.20L554.76,130.18L555.40,129.16L556.04,128.14L556.68,127.12L557.32,126.10L557.96,125.09L558.60,124.07L559.24,123.05L559.88,122.03L560.52,121.01L561.17,120.00L561.81,118.98L562.46,117.97L563.10,116.95L563.75,115.94L564.40,114.93L565.05,113.92L565.71,112.92L566.53,111.66L567.35,110.41L568.18,109.16L569.01,107.91L569.84,106.67L570.68,105.43L571.52,104.20L572.37,102.97L573.23,101.75L574.09,100.53L574.95,99.32L575.83,98.11L576.71,96.91L577.59,95.71L578.48,94.52L579.38,93.34L580.29,92.16L581.20,90.99L582.13,89.83L583.06,88.68L584.00,87.53L584.95,86.39L585.90,85.26L586.87,84.14L587.85,83.03L588.84,81.93L589.83,80.83L590.84,79.75L591.86,78.67L592.89,77.61L593.93,76.55L594.98,75.51L596.05,74.48L597.12,73.46L598.21,72.45L599.31,71.45L600.43,70.46L601.55,69.48L602.70,68.52L603.85,67.57L605.02,66.63L605.96,65.89L606.92,65.16L607.88,64.44L608.85,63.73L609.84,63.03L610.82,62.35L611.82,61.68L612.83,61.03L614.10,60.23L615.38,59.46L616.68,58.72L617.99,58.01L619.31,57.33L620.65,56.68L622.00,56.07L623.36,55.50L624.73,54.97L626.11,54.47L627.51,54.02L628.92,53.61L630.34,53.25L631.77,52.94L633.21,52.68L634.66,52.47L636.13,52.31L637.60,52.20L639.09,52.15L640.58,52.14L641.78,52.17L642.98,52.23L644.19,52.32L645.40,52.43L646.62,52.56L647.83,52.71L649.05,52.89L650.26,53.08L651.48,53.30L652.70,53.52L653.91,53.77L655.13,54.02L656.34,54.29L657.55,54.57L658.75,54.86L659.96,55.15L661.15,55.45L662.34,55.75L663.53,56.06L664.71,56.37L665.88,56.68L667.05,56.98L668.49,57.36L669.93,57.73L671.34,58.09L672.74,58.44L674.13,58.77L675.49,59.08L676.84,59.37L678.16,59.64" stroke="#0000ff"/>
<path d="M395.70,231.14L396.64,230.12L397.67,229.27L398.81,228.57L400.01,227.99L401.28,227.53L402.60,227.15L403.95,226.84L405.31,226.57L406.69,226.33L408.06,226.11L409.44,225.90L410.82,225.72L412.20,225.54L413.58,225.39L414.97,225.24L416.35,225.11L417.74,224.99L419.12,224.87L420.51,224.77L421.90,224.67L423.29,224.58L424.68,224.49L426.08,224.41L427.47,224.33L428.86,224.25L430.26,224.17L431.65,224.09L433.05,224.00L434.44,223.91L435.84,223.82L437.24,223.72L438.63,223.61L440.03,223.50L441.43,223.37L442.82,223.23L444.22,223.09L445.61,222.93L447.01,222.76L448.40,222.59L449.80,222.40L451.19,222.20L452.58,222.00L453.97,221.78L455.36,221.55L456.75,221.31L458.13,221.06L459.52,220.80L460.90,220.54L462.28,220.26L463.66,219.97L465.04,219.67L466.41,219.36L467.78,219.03L469.15,218.70L470.52,218.36L471.88,218.01L473.24,217.65L474.60,217.27L475.95,216.89L477.30,216.50L478.65,216.09L479.99,215.68L481.33,215.25L482.67,214.82L484.00,214.37L485.33,213.91L486.65,213.44L487.97,212.97L489.28,212.48L490.59,211.98L491.89,211.47L493.19,210.95L494.49,210.42L495.77,209.87L497.06,209.32L498.34,208.76L499.61,208.18L500.87,207.60L502.13,207.00L503.39,206.40L504.64,205.78L505.88,205.15L507.11,204.52L508.34,203.87L509.56,203.21L510.78,202.54L511.99,201.85L513.19,201.16L514.39,200.46L515.58,199.75L516.76,199.03L517.94,198.29L519.11,197.55L520.27,196.80L521.43,196.04L522.58,195.27L523.73,194.49L524.87,193.71L526.01,192.91L527.14,192.11L528.26,191.29L529.38,190.47L530.50,189.64L531.61,188.81L532.71,187.96L533.81,187.11L534.91,186.25L536.00,185.38L537.08,184.51L538.16,183.63L539.24,182.74L540.31,181.84L541.38,180.94L542.44,180.04L543.50,179.12L544.55,178.20L545.60,177.28L546.65,176.35L547.69,175.41L548.73,174.47L549.77,173.52L550.80,172.57L551.83,171.61L552.86,170.65L553.88,169.68L554.90,168.71L555.91,167.74L556.92,166.76L557.93,165.77L558.94,164.79L559.94,163.80L560.95,162.80L561.94,161.81L562.94,160.80L563.93,159.80L564.93,158.79L565.91,157.78L566.90,156.77L567.89,155.76L568.87,154.74L569.85,153.72L570.83,152.70L571.81,151.68L572.78,150.66L573.76,149.63L574.73,148.60L575.70,147.58L576.67,146.55L577.64,145.52L578.61,144.49L579.57,143.46L580.54,142.43L581.51,141.39L582.47,140.36L583.43,139.33L584.40,138.30L585.36,137.27L586.32,136.24L587.28,135.21L588.24,134.18L589.21,133.16L590.17,132.13L591.13,131.11L592.09,130.08L593.05,129.06L594.01,128.04L594.98,127.02L595.94,126.01L596.91,125.00L597.87,123.98L598.84,122.98L599.81,121.97L600.78,120.97L601.75,119.97L602.73,118.97L603.71,117.98L604.69,116.99L605.67,116.01L606.65,115.02L607.64,114.05L608.63,113.07L609.63,112.10L610.63,111.14L611.63,110.18L612.64,109.22L613.65,108.27L614.66,107.33L615.68,106.39L616.71,105.45L617.74,104.53L618.77,103.60L619.81,102.68L620.86,101.77L621.91,100.87L622.97,99.97L624.03,99.08L625.10,98.19L626.17,97.31L627.26,96.44L628.34,95.57L629.44,94.71L630.54,93.86L631.65,93.02L632.77,92.18L633.90,91.36L635.03,90.54L636.17,89.73L637.32,88.92L638.48,88.13L639.65,87.34L640.82,86.57L642.00,85.80L643.20,85.04L644.40,84.30L645.61,83.57L646.83,82.85L648.05,82.15L649.29,81.47L650.53,80.80L651.79,80.15L653.05,79.52L654.32,78.92L655.60,78.33L656.88,77.77L658.18,77.23L659.48,76.71L660.80,76.22L662.12,75.76L663.44,75.33L664.78,74.92L666.13,74.55L667.48,74.20L668.84,73.89L670.21,73.61L671.59,73.37L672.98,73.16L674.37,72.99L675.78,72.85L677.19,72.76L678.32,72.71" stroke="#00ff00"/>
</g>
<path d="M466.57,233.0v-2.8M466.57,10.5v2.8M537.15,233.0v-2.8M537.15,10.5v2.8M607.72,233.0v-2.8M607.72,10.5v2.8M396.0,208.28h2.8M678.3,208.28h-2.8M396.0,183.56h2.8M678.3,183.56h-2.8M396.0,158.83h2.8M678.3,158.83h-2.8M396.0,134.11h2.8M678.3,134.11h-2.8M396.0,109.39h2.8M678.3,109.39h-2.8M396.0,84.67h2.8M678.3,84.67h-2.8M396.0,59.94h2.8M678.3,59.94h-2.8M396.0,35.22h2.8M678.3,35.22h-2.8" stroke="#262626" stroke-width="0.6" fill="none"/>
<rect x="396.0" y="10.5" width="282.30" height="222.50" fill="none" stroke="#262626" stroke-width="0.6"/>
<g font-family="Liberation Sans, Arial, sans-serif" font-size="9.5" fill="#262626">
<text x="396.00" y="246.0" text-anchor="middle" textLength="4.84" lengthAdjust="spacingAndGlyphs">0</text>
<text x="466.57" y="246.0" text-anchor="middle" textLength="9.67" lengthAdjust="spacingAndGlyphs">50</text>
<text x="537.15" y="246.0" text-anchor="middle" textLength="14.51" lengthAdjust="spacingAndGlyphs">100</text>
<text x="607.72" y="246.0" text-anchor="middle" textLength="14.51" lengthAdjust="spacingAndGlyphs">150</text>
<text x="678.30" y="246.0" text-anchor="middle" textLength="14.51" lengthAdjust="spacingAndGlyphs">200</text>
<text x="391.80" y="236.40" text-anchor="end" textLength="4.84" lengthAdjust="spacingAndGlyphs">0</text>
<text x="391.80" y="211.68" text-anchor="end" textLength="19.35" lengthAdjust="spacingAndGlyphs">1000</text>
<text x="391.80" y="186.96" text-anchor="end" textLength="19.35" lengthAdjust="spacingAndGlyphs">2000</text>
<text x="391.80" y="162.23" text-anchor="end" textLength="19.35" lengthAdjust="spacingAndGlyphs">3000</text>
<text x="391.80" y="137.51" text-anchor="end" textLength="19.35" lengthAdjust="spacingAndGlyphs">4000</text>
<text x="391.80" y="112.79" text-anchor="end" textLength="19.35" lengthAdjust="spacingAndGlyphs">5000</text>
<text x="391.80" y="88.07" text-anchor="end" textLength="19.35" lengthAdjust="spacingAndGlyphs">6000</text>
<text x="391.80" y="63.34" text-anchor="end" textLength="19.35" lengthAdjust="spacingAndGlyphs">7000</text>
<text x="391.80" y="38.62" text-anchor="end" textLength="19.35" lengthAdjust="spacingAndGlyphs">8000</text>
<text x="391.80" y="13.90" text-anchor="end" textLength="19.35" lengthAdjust="spacingAndGlyphs">9000</text>
</g>
<text x="537.15" y="258.4" text-anchor="middle" font-family="Liberation Sans, Arial, sans-serif" font-size="9.5" fill="#262626">Time</text>
<text x="537.15" y="6.5" text-anchor="middle" font-family="Liberation Sans, Arial, sans-serif" font-weight="bold" font-size="10" textLength="79.5" lengthAdjust="spacingAndGlyphs" fill="#000">Proposed Method</text>
<text transform="translate(364.30,131.4) rotate(-90)" font-family="Liberation Sans, Arial, sans-serif" font-size="9.5" fill="#262626"><tspan font-size="9.8">I</tspan><tspan font-size="7.5" dy="5">m</tspan><tspan dy="-5">(t)</tspan></text>
<text x="499.90" y="278" font-family="Liberation Serif, Times New Roman, serif" font-size="14" fill="#000" textLength="14.6" lengthAdjust="spacingAndGlyphs">(b)</text>
<text x="520.00" y="278" font-family="Liberation Serif, Times New Roman, serif" font-size="14" fill="#000" font-style="italic">ρ</text>
<text x="531.40" y="278.3" font-family="Liberation Serif, Times New Roman, serif" font-size="11" fill="#000" textLength="9.3" lengthAdjust="spacingAndGlyphs" stroke="#000" stroke-width="0.12">=</text>
<text x="544.50" y="278" font-family="Liberation Serif, Times New Roman, serif" font-size="14" fill="#000" >0.9</text>
<rect x="599.6" y="99.4" width="57.9" height="42.9" fill="#fff" stroke="#262626" stroke-width="0.55"/>
<circle cx="615.30" cy="105.30" r="0.9" fill="#ff0000"/>
<text x="629.80" y="108.60" font-family="Liberation Sans, Arial, sans-serif" font-size="8.2" fill="#000" stroke="#000" stroke-width="0.12"><tspan font-family="Liberation Serif, Times New Roman, serif" font-style="italic" stroke="none">σ</tspan>=1.0</text>
<circle cx="615.30" cy="115.67" r="0.9" fill="#000000"/>
<text x="629.80" y="118.97" font-family="Liberation Sans, Arial, sans-serif" font-size="8.2" fill="#000" stroke="#000" stroke-width="0.12"><tspan font-family="Liberation Serif, Times New Roman, serif" font-style="italic" stroke="none">σ</tspan>=0.95</text>
<circle cx="615.30" cy="126.04" r="0.9" fill="#0000ff"/>
<text x="629.80" y="129.34" font-family="Liberation Sans, Arial, sans-serif" font-size="8.2" fill="#000" stroke="#000" stroke-width="0.12"><tspan font-family="Liberation Serif, Times New Roman, serif" font-style="italic" stroke="none">σ</tspan>=0.90</text>
<circle cx="615.30" cy="136.41" r="0.9" fill="#00ff00"/>
<text x="629.80" y="139.71" font-family="Liberation Sans, Arial, sans-serif" font-size="8.2" fill="#000" stroke="#000" stroke-width="0.12"><tspan font-family="Liberation Serif, Times New Roman, serif" font-style="italic" stroke="none">σ</tspan>=0.85</text>
</svg>
</body></html>
